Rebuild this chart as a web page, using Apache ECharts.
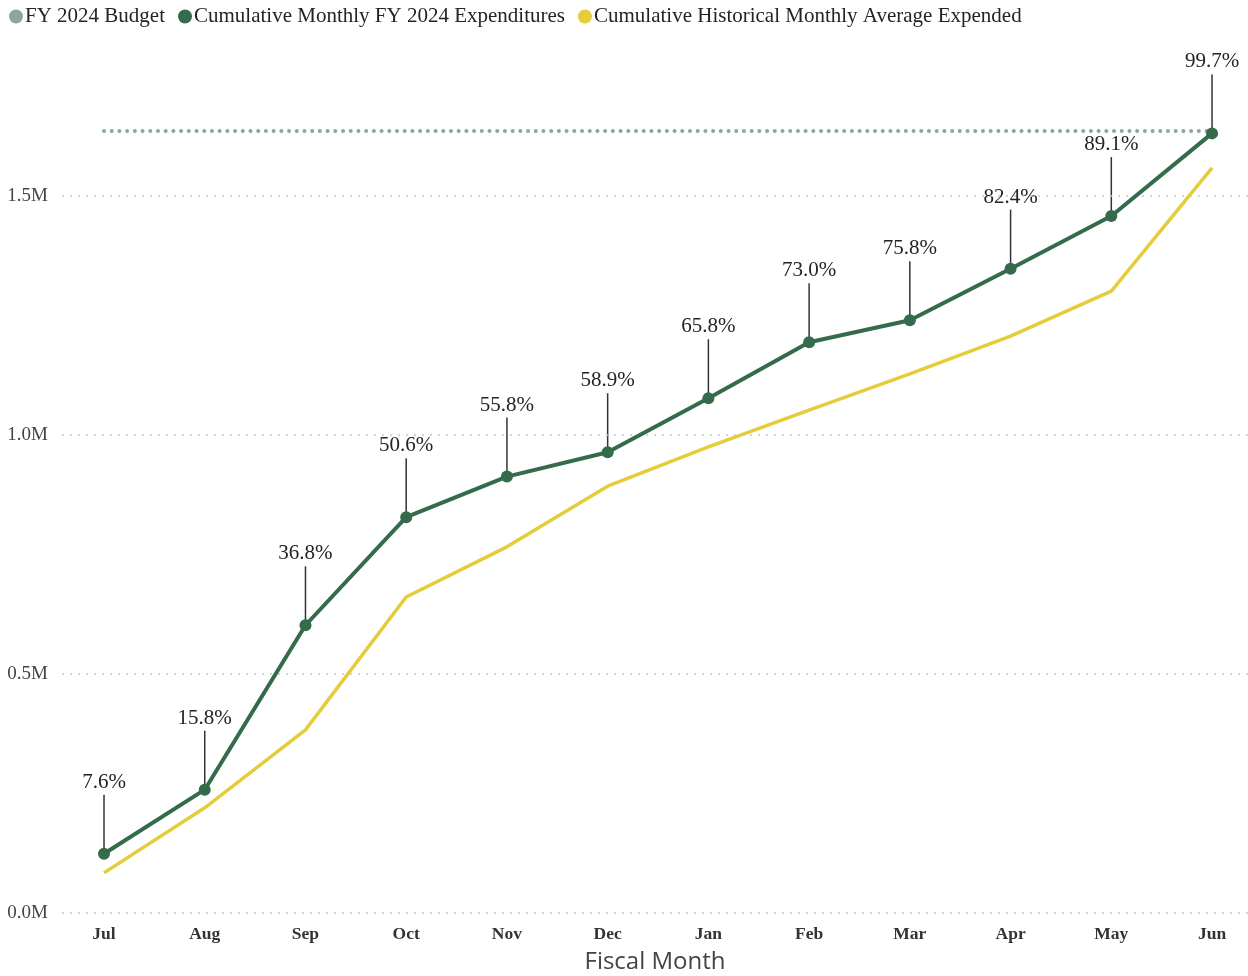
<!DOCTYPE html>
<html>
<head>
<meta charset="utf-8">
<script src="https://cdn.jsdelivr.net/npm/echarts@6/dist/echarts.min.js"></script>
<style>html,body{margin:0;padding:0;background:#fff}#c{width:1248px;height:976px}</style>
</head>
<body>
<div id="c"></div>
<script>
var months = ['Jul','Aug','Sep','Oct','Nov','Dec','Jan','Feb','Mar','Apr','May','Jun'];
var budget = [1.636,1.636,1.636,1.636,1.636,1.636,1.636,1.636,1.636,1.636,1.636,1.636];
var expenditures = [0.124,0.258,0.602,0.828,0.913,0.964,1.077,1.194,1.240,1.348,1.458,1.631];
var historical = [0.084,0.220,0.383,0.661,0.766,0.893,0.975,1.052,1.128,1.207,1.301,1.559];
var pctLabels = ['7.6%','15.8%','36.8%','50.6%','55.8%','58.9%','65.8%','73.0%','75.8%','82.4%','89.1%','99.7%'];
var yTicks = [0,0.5,1.0,1.5];

function pairs(arr){ return arr.map(function(v,i){ return [i,v]; }); }
var serif = 'Liberation Serif, Times New Roman, serif';

var chart = echarts.init(document.getElementById('c'), null, {renderer:'canvas'});
chart.setOption({
  animation:false,
  backgroundColor:'#ffffff',
  legend:{
    left:4, top:1, itemGap:13, itemWidth:14, itemHeight:14,
    icon:'circle',
    textStyle:{fontFamily:serif, fontSize:21, color:'#252423', padding:[0,0,0,-3]},
    data:['FY 2024 Budget','Cumulative Monthly FY 2024 Expenditures','Cumulative Historical Monthly Average Expended']
  },
  grid:{left:62, right:0, top:76.5, bottom:63, containLabel:false, outerBoundsMode:'none'},
  xAxis:{
    type:'value', min:-0.417, max:11.357,
    axisLine:{show:false}, axisTick:{show:false}, splitLine:{show:false},
    axisLabel:{customValues:[0,1,2,3,4,5,6,7,8,9,10,11], formatter:function(v){return months[v];},
      fontFamily:serif, fontSize:17.5, fontWeight:'bold', color:'#333', margin:12},
    name:'Fiscal Month', nameLocation:'middle', nameGap:37,
    nameTextStyle:{fontFamily:'Open Sans, Noto Sans, sans-serif', fontSize:24, color:'#444'}
  },
  yAxis:{
    type:'value', min:0, max:1.75,
    axisLine:{show:false}, axisTick:{show:false},
    axisLabel:{customValues:yTicks, formatter:function(v){return v.toFixed(1)+'M';},
      fontFamily:serif, fontSize:19, color:'#444', margin:14},
    splitLine:{show:false}
  },
  series:[
    {name:'FY 2024 Budget', type:'line', data:pairs(budget), symbol:'none', z:2,
     color:'#8aa898',
     lineStyle:{color:'#8aa898', width:4, type:[0.01,7.7], cap:'round'},
     markLine:{silent:true, symbol:'none', label:{show:false},
       lineStyle:{color:'#c6c6c6', width:1.5, type:[2,6]},
       data:yTicks.map(function(t){return {yAxis:t};})}
    },
    {name:'Cumulative Historical Monthly Average Expended', type:'line', data:pairs(historical),
     symbol:'none', color:'#e4cc3a', lineStyle:{color:'#e4cc3a', width:3.5}, z:3},
    {name:'Cumulative Monthly FY 2024 Expenditures', type:'line', data:pairs(expenditures),
     symbol:'circle', symbolSize:12, showAllSymbol:true, color:'#336b4b',
     itemStyle:{color:'#336b4b'}, lineStyle:{color:'#336b4b', width:4}, z:5},
    {name:'labels', type:'custom', z:4, silent:true,
     data:pairs(expenditures),
     renderItem:function(params, api){
       var p = api.coord([api.value(0), api.value(1)]);
       var idx = params.dataIndex;
       return {type:'group', children:[
         {type:'line', shape:{x1:p[0], y1:p[1], x2:p[0], y2:p[1]-59},
          style:{stroke:'#333', lineWidth:1.5}},
         {type:'text', x:p[0], y:p[1]-61,
          style:{text:pctLabels[idx], fill:'#252423', font:'21px '+serif, align:'center', verticalAlign:'bottom'}}
       ]};
     }
    }
  ]
});
</script>
</body>
</html>
